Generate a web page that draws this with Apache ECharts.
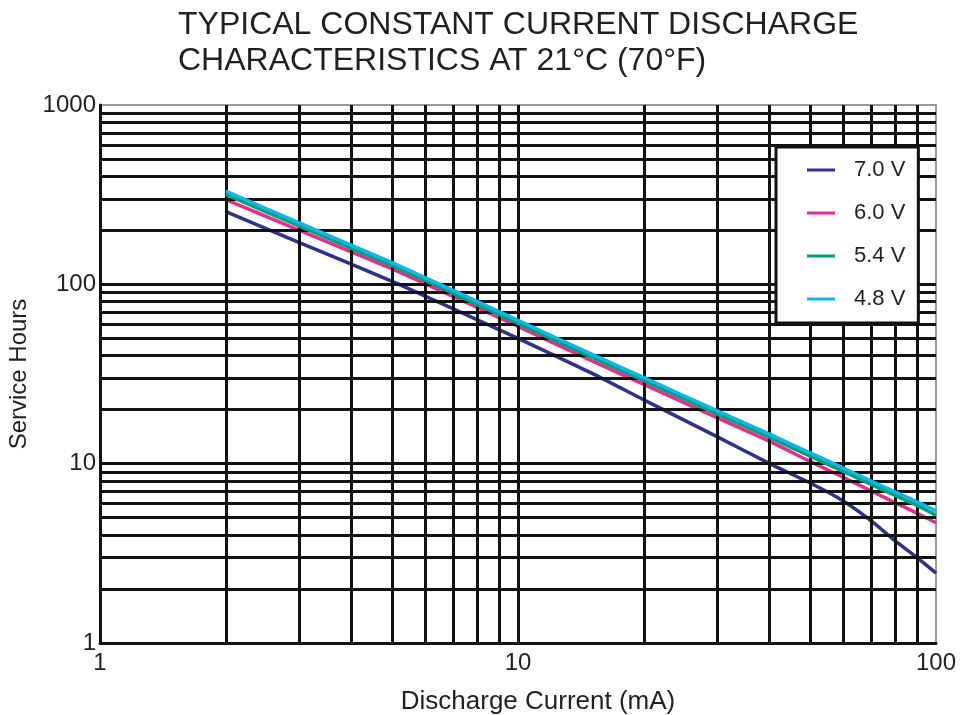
<!DOCTYPE html>
<html>
<head>
<meta charset="utf-8">
<script src="https://cdn.jsdelivr.net/npm/echarts@6/dist/echarts.min.js"></script>
<style>
  html, body { margin: 0; padding: 0; background: #fff; }
  #chart { width: 966px; height: 715px; }
</style>
</head>
<body>
<div id="chart"></div>
<script>
// discharge current (mA)
var current = [2, 3, 5, 7, 10, 15, 20, 30, 40, 50, 60, 70, 80, 90, 100];
// service hours per cut-off voltage
var hours70 = [254, 171, 104, 73, 50, 32, 22.7, 14.1, 10.0, 7.8, 6.2, 4.8, 3.7, 3.0, 2.45];
var hours60 = [297, 200, 122, 85.5, 58.2, 37.5, 27.7, 18.0, 13.3, 10.3, 8.4, 7.04, 6.05, 5.3, 4.68];
var hours54 = [317, 211, 127, 89, 60.5, 39.2, 29, 18.9, 14.0, 11.0, 9.05, 7.65, 6.63, 5.85, 5.16];
var hours48 = [331, 220, 132, 92.5, 63, 40.8, 30.2, 19.7, 14.6, 11.5, 9.46, 8.0, 6.94, 6.13, 5.46];
var seriesNames = ['7.0 V', '6.0 V', '5.4 V', '4.8 V'];
var seriesColors = ['#2e3192', '#ec2a8c', '#00a07a', '#12b5ea'];

// log grid lines
var gridX = [2, 3, 4, 5, 6, 7, 8, 9, 10, 20, 30, 40, 50, 60, 70, 80, 90];
var gridY = [2, 3, 4, 5, 6, 7, 8, 9, 10, 20, 30, 40, 50, 60, 70, 80, 90, 100,
  200, 300, 400, 500, 600, 700, 800, 900];

var font = 'Liberation Sans, Arial, sans-serif';
var ink = '#231f20';

function pairs(ys) {
  return current.map(function (x, i) { return [x, ys[i]]; });
}

var chartDom = document.getElementById('chart');
var myChart = echarts.init(chartDom);

var gridLines = gridX.map(function (v) { return { xAxis: v }; })
  .concat(gridY.map(function (v) { return { yAxis: v }; }));

var curves = [hours70, hours60, hours54, hours48].map(function (ys, i) {
  return {
    name: seriesNames[i],
    type: 'line',
    data: pairs(ys),
    showSymbol: false,
    symbol: 'none',
    smooth: 0.2,
    z: 3 + i,
    lineStyle: { color: seriesColors[i], width: 3.5 },
    itemStyle: { color: seriesColors[i] }
  };
});

var option = {
  backgroundColor: '#fff',
  animation: false,
  textStyle: { fontFamily: font },
  title: {
    text: 'TYPICAL CONSTANT CURRENT DISCHARGE\nCHARACTERISTICS AT 21°C (70°F)',
    left: 173,
    top: 2,
    textStyle: {
      fontFamily: font,
      fontSize: 32,
      fontWeight: 'normal',
      color: ink,
      lineHeight: 36
    }
  },
  legend: {
    data: seriesNames,
    orient: 'vertical',
    left: 776,
    top: 147,
    z: 20,
    padding: [12, 13, 13, 31],
    itemWidth: 28,
    itemHeight: 3,
    itemGap: 21,
    icon: 'rect',
    backgroundColor: '#fff',
    borderColor: '#111',
    borderWidth: 3,
    textStyle: { fontFamily: font, fontSize: 22, color: ink, padding: [0, 0, 0, 14] }
  },
  grid: {
    left: 100,
    right: 30,
    top: 105,
    bottom: 72,
    outerBoundsMode: 'none',
    containLabel: false,
    show: true,
    borderColor: '#9a9a9a',
    borderWidth: 2,
    backgroundColor: 'transparent'
  },
  xAxis: {
    type: 'log',
    logBase: 10,
    min: 1,
    max: 100,
    name: 'Discharge Current (mA)',
    nameLocation: 'middle',
    nameGap: 46,
    nameTextStyle: { fontFamily: font, fontSize: 26, color: ink, padding: [0, 0, 0, 40] },
    axisLine: { show: true, lineStyle: { color: '#111', width: 3 } },
    axisTick: { show: false },
    splitLine: { show: false },
    axisLabel: { fontFamily: font, fontSize: 24, color: ink, margin: 8, formatter: '{value}' }
  },
  yAxis: {
    type: 'log',
    logBase: 10,
    min: 1,
    max: 1000,
    name: 'Service Hours',
    nameLocation: 'middle',
    nameGap: 63,
    nameTextStyle: { fontFamily: font, fontSize: 24, color: ink },
    axisLine: { show: true, lineStyle: { color: '#111', width: 3 } },
    axisTick: { show: false },
    splitLine: { show: false },
    axisLabel: {
      fontFamily: font, fontSize: 24, color: ink, margin: 4,
      formatter: function (v) { return String(Math.round(v)); }
    }
  },
  series: [
    {
      name: 'grid',
      type: 'line',
      data: [],
      z: 1,
      silent: true,
      markLine: {
        silent: true,
        symbol: 'none',
        animation: false,
        label: { show: false },
        lineStyle: { color: '#111', width: 3, type: 'solid' },
        emphasis: { disabled: true },
        data: gridLines
      }
    }
  ].concat(curves)
};

myChart.setOption(option);

window.addEventListener('resize', function () {
  myChart.resize();
});
</script>
</body>
</html>
